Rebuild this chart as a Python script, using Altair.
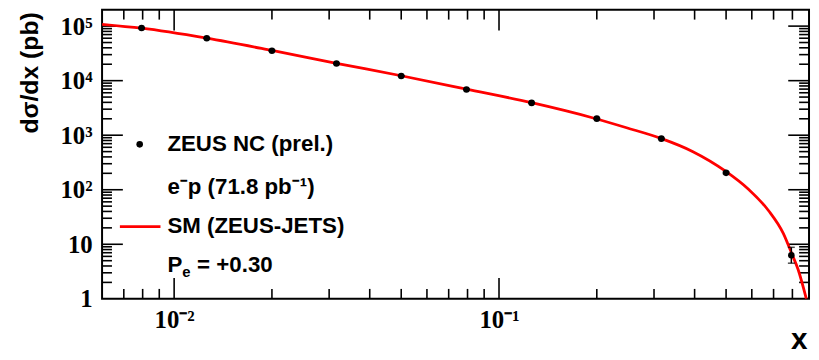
import math
import altair as alt
import pandas as pd

# ---------------- data ----------------
x_vals = [0.00794, 0.0126, 0.02, 0.0316, 0.05, 0.0794, 0.126, 0.2, 0.316, 0.5, 0.794]
y_vals = [92000, 60000, 35400, 20600, 12200, 6900, 3910, 2010, 865, 204, 6.3]
y_lo = [90500, 59000, 34800, 20250, 12000, 6780, 3840, 1970, 845, 197, 4.5]
y_hi = [93500, 61000, 36000, 20950, 12400, 7020, 3980, 2050, 885, 211, 8.8]

sm_x = [0.006, 0.00794, 0.0126, 0.02, 0.0316, 0.05, 0.0794, 0.126, 0.195, 0.247,
        0.315, 0.394, 0.498, 0.586, 0.675, 0.75, 0.795, 0.833, 0.883]
sm_y = [108000, 91500, 60000, 35800, 20800, 12300, 7000, 3950, 2070, 1370,
        875, 504, 219, 102, 41.6, 15.8, 6.9, 3.44, 1.0]

x_major = [0.01, 0.1]
x_major_labels = ["10⁻²", "10⁻¹"]
x_minor = [0.007, 0.008, 0.009,
           0.02, 0.03, 0.04, 0.05, 0.06, 0.07, 0.08, 0.09,
           0.2, 0.3, 0.4, 0.5, 0.6, 0.7, 0.8]
y_major = [10, 100, 1000, 10000, 100000]
y_major_labels = ["1", "10", "10²", "10³", "10⁴", "10⁵"]
y_label_values = [1, 10, 100, 1000, 10000, 100000]
y_minor = [2, 3, 4, 5, 6, 7, 8, 9,
           20, 30, 40, 50, 60, 70, 80, 90,
           200, 300, 400, 500, 600, 700, 800, 900,
           2000, 3000, 4000, 5000, 6000, 7000, 8000, 9000,
           20000, 30000, 40000, 50000, 60000, 70000, 80000, 90000]

X_DOMAIN = [0.006, 0.9]
Y_DOMAIN = [1, 200000]

legend_texts = ["ZEUS NC (prel.)", "e⁻p (71.8 pb⁻¹)", "SM (ZEUS-JETS)"]
pol_text = ["P", "e", "= +0.30"]

# ---------------- layout constants ----------------
W, H = 714, 292
MAJ, MIN = 21, 10
TICK_COLOR = "black"
TICK_W = 1.6

xdec = math.log10(X_DOMAIN[1] / X_DOMAIN[0]) / W
ydec = math.log10(Y_DOMAIN[1] / Y_DOMAIN[0]) / H


def xtick_rows(values, length):
    f = 10 ** (ydec * length)
    rows = []
    for v in values:
        rows.append({"tx": v, "a": Y_DOMAIN[0], "b": Y_DOMAIN[0] * f})
        rows.append({"tx": v, "a": Y_DOMAIN[1], "b": Y_DOMAIN[1] / f})
    return pd.DataFrame(rows)


def ytick_rows(values, length):
    f = 10 ** (xdec * length)
    rows = []
    for v in values:
        rows.append({"ty": v, "a": X_DOMAIN[0], "b": X_DOMAIN[0] * f})
        rows.append({"ty": v, "a": X_DOMAIN[1], "b": X_DOMAIN[1] / f})
    return pd.DataFrame(rows)


pts = pd.DataFrame({"x": x_vals, "y": y_vals, "lo": y_lo, "hi": y_hi})
caps = pd.DataFrame({"x": x_vals + x_vals, "yc": y_lo + y_hi})
sm = pd.DataFrame({"x": sm_x, "y": sm_y})


def label_expr(values, labels):
    expr = "'" + labels[-1] + "'"
    for v, lab in reversed(list(zip(values[:-1], labels[:-1]))):
        expr = f"abs(log(datum.value) - log({v})) < 0.01 ? '{lab}' : " + expr
    return expr


xs = alt.Scale(type="log", domain=X_DOMAIN, nice=False)
ys = alt.Scale(type="log", domain=Y_DOMAIN, nice=False)

x_axis = alt.Axis(orient="bottom", values=x_major, ticks=False, domain=False, grid=False,
                  labelExpr=label_expr(x_major, x_major_labels),
                  labelPadding=9, labelFont="Liberation Serif", labelFontWeight="bold",
                  labelFontSize=25, labelColor="black", labelFlush=False,
                  title="x", titleFont="Liberation Sans", titleFontWeight="bold",
                  titleFontSize=30, titleColor="black", titleAlign="right",
                  titleX=712, titleY=50, titleBaseline="alphabetic")
y_axis = alt.Axis(orient="left", values=y_label_values, ticks=False, domain=False, grid=False,
                  labelExpr=label_expr(y_label_values, y_major_labels),
                  labelPadding=10, labelFont="Liberation Serif", labelFontWeight="bold",
                  labelFontSize=25, labelColor="black", labelFlush=False,
                  title="dσ/dx (pb)", titleFont="Liberation Sans", titleFontWeight="bold",
                  titleFontSize=25, titleColor="black", titleAlign="right",
                  titleAngle=270, titleX=-73, titleY=2, titleBaseline="middle")

line = alt.Chart(sm).mark_line(color="#ff0000", strokeWidth=2.8, interpolate="monotone", clip=True).encode(
    x=alt.X("x:Q", scale=xs, axis=x_axis),
    y=alt.Y("y:Q", scale=ys, axis=y_axis),
)
bars = alt.Chart(pts).mark_rule(color="black", strokeWidth=1.5).encode(
    x=alt.X("x:Q", scale=xs, axis=None),
    y=alt.Y("lo:Q", scale=ys, axis=None),
    y2="hi:Q",
)
capm = alt.Chart(caps).mark_tick(color="black", orient="horizontal", size=7, thickness=1.5).encode(
    x=alt.X("x:Q", scale=xs, axis=None),
    y=alt.Y("yc:Q", scale=ys, axis=None),
)
dots = alt.Chart(pts).mark_point(filled=True, color="black", size=44, opacity=1, shape="circle").encode(
    x=alt.X("x:Q", scale=xs, axis=None),
    y=alt.Y("y:Q", scale=ys, axis=None),
)


def xticks(df):
    return alt.Chart(df).mark_rule(color=TICK_COLOR, strokeWidth=TICK_W, opacity=1).encode(
        x=alt.X("tx:Q", scale=xs, axis=None),
        y=alt.Y("a:Q", scale=ys, axis=None), y2="b:Q")


def yticks(df):
    return alt.Chart(df).mark_rule(color=TICK_COLOR, strokeWidth=TICK_W, opacity=1).encode(
        y=alt.Y("ty:Q", scale=ys, axis=None),
        x=alt.X("a:Q", scale=xs, axis=None), x2="b:Q")


tick_layers = [
    xticks(xtick_rows(x_major, MAJ)), xticks(xtick_rows(x_minor, MIN)),
    yticks(ytick_rows(y_major, MAJ)), yticks(ytick_rows(y_minor, MIN)),
]

one = pd.DataFrame({"k": [0]})
LFONT = dict(font="Liberation Sans", fontWeight="bold", color="black", align="left", baseline="middle")
FS = 22.5

leg_dot = alt.Chart(one).mark_point(filled=True, color="black", size=44, opacity=1, shape="circle").encode(
    x=alt.value(38), y=alt.value(136))
leg_line = alt.Chart(one).mark_rule(color="#ff0000", strokeWidth=2.8).encode(
    x=alt.value(18), x2=alt.value(59), y=alt.value(219))
leg1 = alt.Chart(one).mark_text(text=legend_texts[0], fontSize=FS, **LFONT).encode(
    x=alt.value(66), y=alt.value(136))
leg2 = alt.Chart(one).mark_text(text=legend_texts[1], fontSize=FS, **LFONT).encode(
    x=alt.value(66), y=alt.value(179))
leg3 = alt.Chart(one).mark_text(text=legend_texts[2], fontSize=FS, **LFONT).encode(
    x=alt.value(66), y=alt.value(219))
leg4a = alt.Chart(one).mark_text(text=pol_text[0], fontSize=FS, **LFONT).encode(
    x=alt.value(66), y=alt.value(258))
leg4b = alt.Chart(one).mark_text(text=pol_text[1], fontSize=15, **LFONT).encode(
    x=alt.value(81), y=alt.value(265))
leg4c = alt.Chart(one).mark_text(text=pol_text[2], fontSize=FS, **LFONT).encode(
    x=alt.value(96), y=alt.value(258))

chart = alt.layer(
    *tick_layers, line, bars, capm, dots,
    leg_dot, leg_line, leg1, leg2, leg3, leg4a, leg4b, leg4c,
).resolve_axis(
    x="independent", y="independent"
).properties(
    width=W, height=H,
    autosize=alt.AutoSizeParams(type="none"),
    padding={"left": 95, "top": 0, "right": 2, "bottom": 52},
    background="white",
).configure_view(
    stroke="black", strokeWidth=2
)

chart.save("out.html", embed_options={"renderer": "svg", "actions": False})
